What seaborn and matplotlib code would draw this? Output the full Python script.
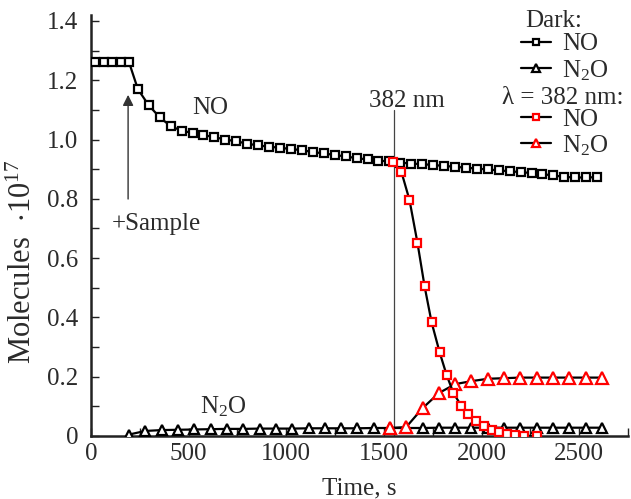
import matplotlib
matplotlib.use("Agg")
import matplotlib.pyplot as plt
import seaborn as sns
from matplotlib.lines import Line2D
from matplotlib.ticker import MultipleLocator, FuncFormatter

# ---------------- data ----------------
t_dark_no = [20, 65, 110, 155, 195, 240, 296, 352, 408, 464, 520, 576, 632, 688, 744,
             800, 856, 912, 968, 1024, 1080, 1136, 1192, 1248, 1304, 1360, 1416, 1472,
             1528, 1584, 1640, 1696, 1752, 1808, 1864, 1920, 1976, 2032, 2088, 2144,
             2200, 2256, 2312, 2368, 2424, 2480, 2536, 2592]
v_dark_no = [1.26, 1.26, 1.26, 1.26, 1.26, 1.17, 1.115, 1.075, 1.045, 1.03, 1.022, 1.015,
             1.008, 1.0, 0.994, 0.986, 0.98, 0.976, 0.972, 0.968, 0.964, 0.958, 0.953,
             0.948, 0.943, 0.937, 0.933, 0.929, 0.926, 0.922, 0.919, 0.917, 0.914, 0.911,
             0.908, 0.905, 0.902, 0.899, 0.896, 0.893, 0.89, 0.887, 0.883, 0.879, 0.874,
             0.872, 0.872, 0.873]

t_dark_n2o = [195, 278, 362, 446, 529, 612, 696, 780, 863, 946, 1030, 1114, 1197, 1280,
              1364, 1448, 1531, 1614, 1698, 1782, 1865, 1948, 2032, 2116, 2199, 2282,
              2366, 2450, 2533, 2616]
v_dark_n2o = [0.005, 0.017, 0.02, 0.021, 0.022, 0.023, 0.024, 0.024, 0.025, 0.025, 0.025,
              0.026, 0.026, 0.026, 0.026, 0.027, 0.027, 0.027, 0.027, 0.028, 0.028, 0.028,
              0.028, 0.028, 0.028, 0.028, 0.028, 0.028, 0.028, 0.028]

t_uv_no = [1549, 1590, 1631, 1672, 1708, 1744, 1785, 1821, 1856, 1897, 1933, 1974, 2015,
           2051, 2087, 2128, 2169, 2215, 2282]
v_uv_no = [0.924, 0.89, 0.796, 0.651, 0.506, 0.384, 0.283, 0.206, 0.145, 0.101, 0.074,
           0.051, 0.034, 0.020, 0.012, 0.007, 0.003, 0.001, 0.0]

t_uv_n2o = [1531, 1614, 1698, 1782, 1865, 1948, 2032, 2116, 2199, 2282, 2366, 2450, 2533, 2616]
v_uv_n2o = [0.027, 0.03, 0.094, 0.145, 0.175, 0.185, 0.193, 0.195, 0.197, 0.197, 0.197,
            0.197, 0.197, 0.197]

irradiation_start = 1550
sample_time = 195

# ---------------- style ----------------
sns.set_style("ticks")
plt.rcParams["font.family"] = ["Liberation Serif", "DejaVu Serif"]
plt.rcParams["mathtext.fontset"] = "custom"
plt.rcParams["mathtext.rm"] = "Liberation Serif"
plt.rcParams["mathtext.it"] = "Liberation Serif:italic"
plt.rcParams["mathtext.default"] = "regular"

TXT = "#2b2b2b"
FS = 18

W, H = 631, 499
fig = plt.figure(figsize=(W / 100, H / 100), dpi=100)
ax = fig.add_axes([91 / W, 63 / H, 537 / W, 421 / H])

common = dict(linewidth=1.6, color="black", markerfacecolor="white", markeredgewidth=1.6,
              ax=ax, zorder=3)
sns.lineplot(x=t_dark_no, y=v_dark_no, marker="s", markersize=6.3,
             markeredgecolor="black", **common)
sns.lineplot(x=t_dark_n2o, y=v_dark_n2o, marker="^", markersize=7.5,
             markeredgecolor="black", **common)
sns.lineplot(x=t_uv_n2o, y=v_uv_n2o, marker="^", markersize=8,
             markeredgecolor="red", **common)
sns.lineplot(x=t_uv_no, y=v_uv_no, marker="s", markersize=6.3,
             markeredgecolor="red", **common)

ax.set_xlim(0, 2750)
ax.set_ylim(0, 1.42)

# vertical irradiation line
ax.plot([irradiation_start, irradiation_start], [0, 1.1], color="#444444", lw=0.9, zorder=2)
ax.text(irradiation_start + 70, 1.13, "382 nm", fontsize=FS, color=TXT, ha="center", va="center")

# sample arrow
ax.annotate("", xy=(sample_time - 5, 1.16), xytext=(sample_time - 5, 0.79),
            arrowprops=dict(arrowstyle="-|>", color="#333333", lw=1.0, mutation_scale=16))
ax.text(335, 0.715, "+Sample", fontsize=FS, color=TXT, ha="center", va="center")
ax.text(610, 1.105, "NO", fontsize=FS, color=TXT, ha="center", va="center")
ax.text(680, 0.10, "N$_2$O", fontsize=FS, color=TXT, ha="center", va="center")

# axes styling
for s in ["top", "right"]:
    ax.spines[s].set_visible(False)
for s in ["left", "bottom"]:
    ax.spines[s].set_linewidth(1.8)
    ax.spines[s].set_color("#222222")
ax.xaxis.set_major_locator(MultipleLocator(500))
ax.xaxis.set_minor_locator(MultipleLocator(250))
ax.yaxis.set_major_locator(MultipleLocator(0.2))
ax.yaxis.set_minor_locator(MultipleLocator(0.1))
ax.tick_params(which="both", direction="in", length=6, width=1.0, colors="#222222",
               labelcolor=TXT, labelsize=FS)
ax.tick_params(axis="y", which="major", pad=9)
ax.tick_params(axis="x", which="major", pad=5)
ax.yaxis.set_major_formatter(FuncFormatter(lambda v, p: "0" if abs(v) < 1e-9 else f"{v:.1f}"))
ax.xaxis.set_major_formatter(FuncFormatter(lambda v, p: f"{v:.0f}"))
ax.set_xlabel("Time, s", fontsize=FS, color=TXT, labelpad=9)
ax.set_ylabel("Molecules  $\\cdot$10$^{17}$", fontsize=22, color=TXT)
ax.yaxis.set_label_coords(38 / W, 1 - 262 / H, transform=fig.transFigure)

# legends (titles drawn as centred text, entries as legends)
def h(marker, ec, ms):
    return Line2D([], [], color="black", lw=1.6, marker=marker, markersize=ms,
                  markerfacecolor="white", markeredgecolor=ec, markeredgewidth=1.6)

fig.text(554 / W, 1 - 21 / H, "Dark:", fontsize=FS, color=TXT, ha="center", va="center")
fig.text(563 / W, 1 - 98 / H, "λ = 382 nm:", fontsize=FS, color=TXT, ha="center", va="center")

leg_kw = dict(loc="upper left", frameon=False, fontsize=FS, handlelength=1.2,
              handletextpad=0.45, labelspacing=0.1, borderpad=0.0, borderaxespad=0.0,
              labelcolor=TXT, bbox_transform=fig.transFigure)
leg1 = ax.legend([h("s", "black", 5), h("^", "black", 6)], ["NO", "N$_2$O"],
                 bbox_to_anchor=(521 / W, 1 - 33 / H), **leg_kw)
ax.add_artist(leg1)
leg2 = ax.legend([h("s", "red", 5), h("^", "red", 6)], ["NO", "N$_2$O"],
                 bbox_to_anchor=(521 / W, 1 - 108 / H), **leg_kw)

fig.savefig("out.png", dpi=100)
